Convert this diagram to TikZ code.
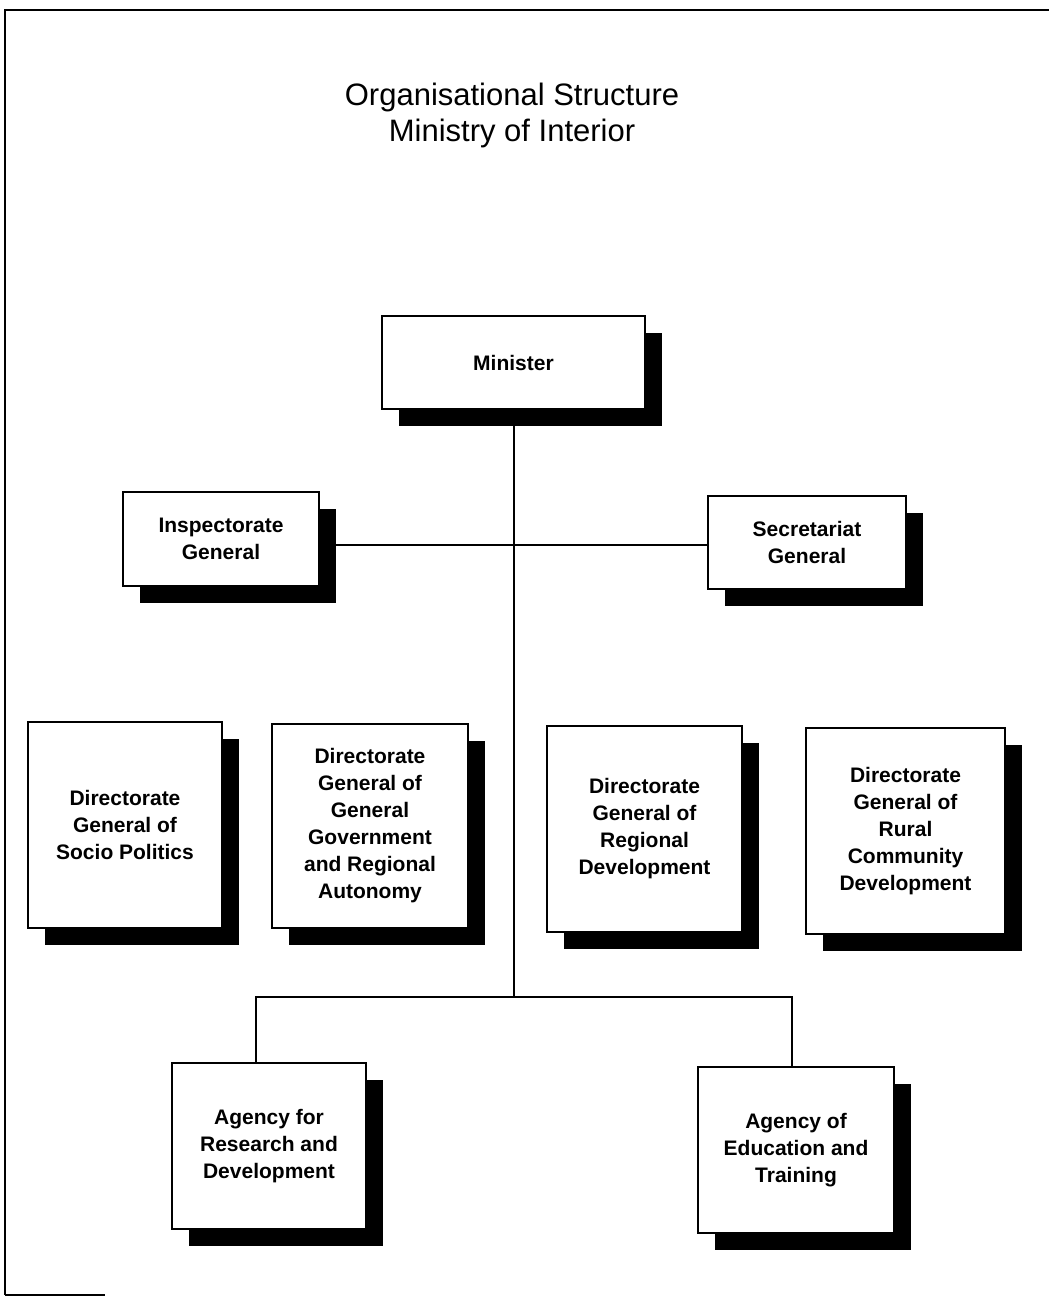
\documentclass[tikz,border=0pt]{standalone}
\usepackage{fontspec}
\setmainfont{Liberation Sans}
\usetikzlibrary{shadows}
\begin{document}
\begin{tikzpicture}[x=1pt,y=-1pt,
  orgbox/.style={draw=black,line width=1.8pt,fill=white,inner sep=0pt,
    align=center,font=\bfseries\fontsize{21}{27}\selectfont,
    drop shadow={shadow xshift=17pt,shadow yshift=-17pt,opacity=1,fill=black}},
  link/.style={draw=black,line width=1.5pt},
  frame/.style={draw=black,line width=2pt}]
\useasboundingbox (0,0) rectangle (1049,1298);
% page frame
\draw[frame] (5,1295) -- (5,10) -- (1049,10);
\draw[frame] (5,1295) -- (105,1295);
% title
\node[align=center,font=\fontsize{31}{36}\selectfont] (title) at (512,115)
  {Organisational Structure\\Ministry of Interior};
% boxes
\node[orgbox,minimum width=263pt,minimum height=93pt] (min) at (513.5,362.5) {Minister};
\node[orgbox,minimum width=196pt,minimum height=94pt] (insp) at (221,539) {Inspectorate\\General};
\node[orgbox,minimum width=198pt,minimum height=93pt] (sec) at (807,542.5) {Secretariat\\General};
\node[orgbox,minimum width=194pt,minimum height=206pt] (dgsp) at (125,825) {Directorate\\General of\\Socio Politics};
\node[orgbox,minimum width=196pt,minimum height=204pt] (dggg) at (370,826) {Directorate\\General of\\General\\Government\\and Regional\\Autonomy};
\node[orgbox,minimum width=195pt,minimum height=206pt] (dgrd) at (644.5,829) {Directorate\\General of\\Regional\\Development};
\node[orgbox,minimum width=199pt,minimum height=206pt] (dgrc) at (905.5,831) {Directorate\\General of\\Rural\\Community\\Development};
\node[orgbox,minimum width=194pt,minimum height=166pt] (rnd) at (269,1146) {Agency for\\Research and\\Development};
\node[orgbox,minimum width=196pt,minimum height=166pt] (edu) at (796,1150) {Agency of\\Education and\\Training};
% junction points on the main spine
\coordinate (hub) at (514,545);
\coordinate (jn) at (514,997);
% connectors
\draw[link] (min.south -| hub) -- (jn);
\draw[link] (insp.east |- hub) -- (sec.west |- hub);
\draw[link] ([xshift=-13pt]rnd.north) -- ([xshift=-13pt]rnd.north |- jn)
  -- ([xshift=-4pt]edu.north |- jn) -- ([xshift=-4pt]edu.north);
\end{tikzpicture}
\end{document}
